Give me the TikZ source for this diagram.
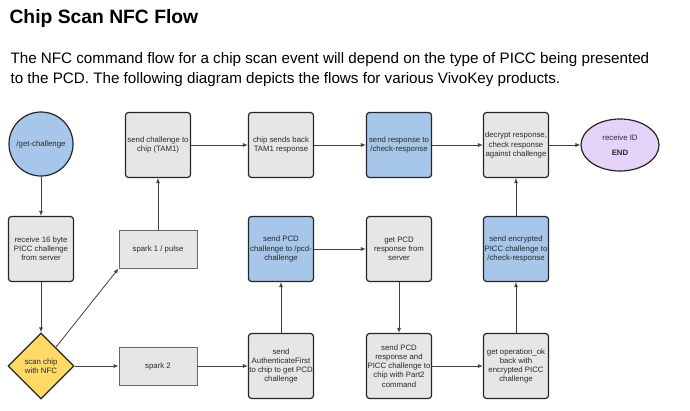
\documentclass[tikz,border=0pt]{standalone}
\usepackage{fontspec}
\setmainfont{Liberation Sans}
\usetikzlibrary{arrows.meta,shapes.geometric}
\definecolor{boxgray}{HTML}{E6E6E6}
\definecolor{boxblue}{HTML}{A6C6EA}
\definecolor{scanyellow}{HTML}{FFD966}
\definecolor{endlilac}{HTML}{E4D2F8}
\definecolor{inkgray}{HTML}{2A2A2A}
\begin{document}
\begin{tikzpicture}[
    x=1pt,y=-1pt,
    every node/.style={font=\fontsize{7.8}{9.2}\selectfont,text=inkgray},
    proc/.style={
        rectangle,
        draw=black!85,
        line width=1.2pt,
        rounded corners=3pt,
        fill=boxgray,
        minimum width=65,
        minimum height=65,
        inner sep=0pt,
        align=center
    },
    serv/.style={proc,fill=boxblue},
    spark/.style={
        rectangle,
        draw=black!60,
        line width=0.9pt,
        fill=boxgray,
        minimum width=78,
        minimum height=38,
        inner sep=0pt,
        align=center
    },
    edge/.style={draw=black!75,line width=0.8pt,-{Latex[length=5pt,width=4pt]}}
]

\useasboundingbox (0,0) rectangle (690,410);

\node[anchor=base west,font=\fontsize{19.3}{22}\selectfont\bfseries,text=black]
    (title) at (6,23) {Chip Scan NFC Flow};
\node[anchor=base west,font=\fontsize{15.2}{18}\selectfont,text=black]
    (para1) at (7,63)
    {The NFC command flow for a chip scan event will depend on the type of PICC being presented};
\node[anchor=base west,font=\fontsize{15.2}{18}\selectfont,text=black]
    (para2) at (7,83)
    {to the PCD. The following diagram depicts the flows for various VivoKey products.};

\node[circle,draw=black!85,line width=1.2pt,fill=boxblue,minimum size=64,inner sep=0pt]
    (getchal) at (41,144) {/get-challenge};
\node[proc] (recv) at (41,249) {receive 16 byte\\PICC challenge\\from server};
\node[diamond,draw=black!85,line width=1.2pt,fill=scanyellow,
      minimum width=66,minimum height=66,inner sep=0pt,align=center]
    (scan) at (41,366) {scan chip\\with NFC};

\node[proc] (sendchal) at (158,145) {send challenge to\\chip (TAM1)};
\node[spark] (spark1) at (158,249) {spark 1 / pulse};
\node[spark] (spark2) at (158,366) {spark 2};

\node[proc] (chipback) at (281,145) {chip sends back\\TAM1 response};
\node[serv] (pcdchal) at (281,249) {send PCD\\challenge to /pcd-\\challenge};
\node[proc] (authfirst) at (281,366) {send\\AuthenticateFirst\\to chip to get PCD\\challenge};

\node[serv] (sendresp) at (399,145) {send response to\\/check-response};
\node[proc] (getresp) at (399,249) {get PCD\\response from\\server};
\node[proc] (part2) at (399,366) {send PCD\\response and\\PICC challenge to\\chip with Part2\\command};

\node[proc] (decrypt) at (516,145) {decrypt response,\\check response\\against challenge};
\node[serv] (encr) at (516,249) {send encrypted\\PICC challenge to\\/check-response};
\node[proc] (opok) at (516,366) {get operation\_ok\\back with\\encrypted PICC\\challenge};

\node[ellipse,draw=black!85,line width=1.2pt,fill=endlilac,
      minimum width=78,minimum height=52,inner sep=0pt,align=center]
    (recvid) at (620,145) {receive ID\\[6pt]\textbf{END}};

\draw[edge] (getchal)--(recv);
\draw[edge] (recv)--(scan);
\draw[edge] (scan)--(spark1.south west);
\draw[edge] (scan)--(spark2);

\draw[edge] (spark1)--(sendchal);
\draw[edge] (sendchal)--(chipback);
\draw[edge] (chipback)--(sendresp);
\draw[edge] (sendresp)--(decrypt);
\draw[edge] (decrypt)--(recvid);

\draw[edge] (spark2)--(authfirst);
\draw[edge] (authfirst)--(pcdchal);
\draw[edge] (pcdchal)--(getresp);
\draw[edge] (getresp)--(part2);
\draw[edge] (part2)--(opok);
\draw[edge] (opok)--(encr);
\draw[edge] (encr)--(decrypt);

\end{tikzpicture}
\end{document}
